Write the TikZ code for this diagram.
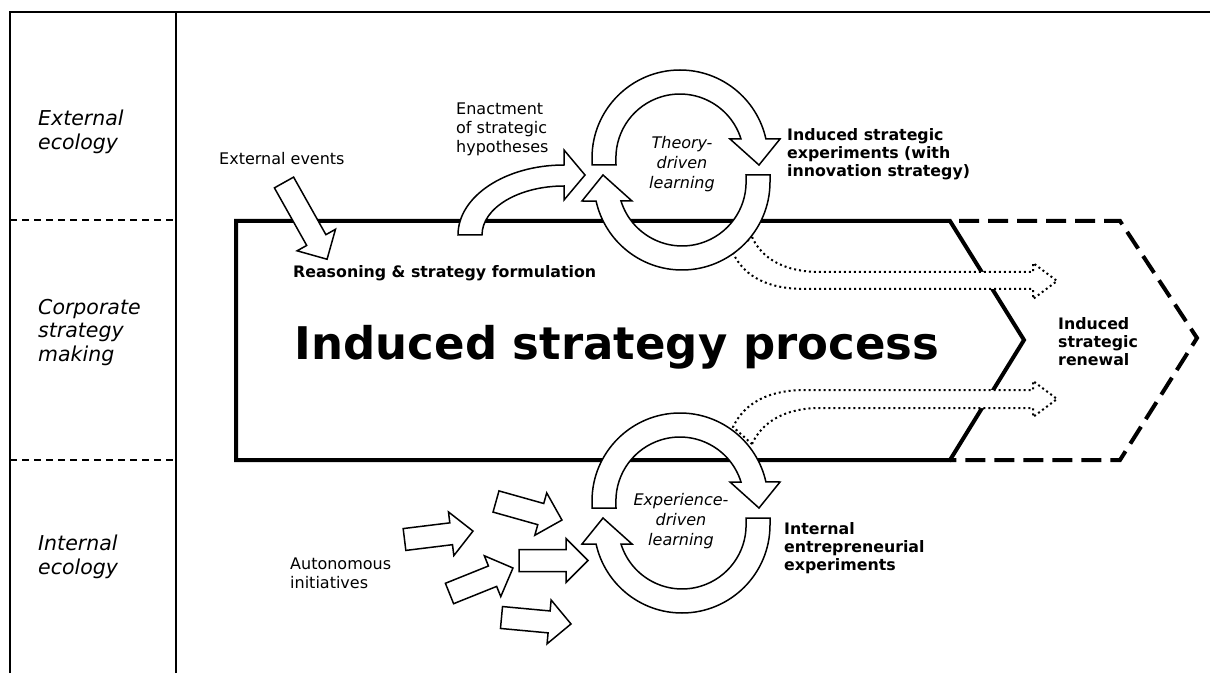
\documentclass[tikz,border=0pt]{standalone}
\usepackage{fontspec}
\setmainfont{DejaVu Sans}
\usepackage{tikz}

\tikzset{
    frameline/.style={line width=1.8pt},
    rowsep/.style={line width=1.5pt, dash pattern=on 7pt off 5pt},
    processline/.style={line width=4pt},
    renewalline/.style={line width=4pt, dash pattern=on 20pt off 9pt, dash phase=20pt},
    bandarrow/.style={fill=white, draw=black, line width=1.5pt},
    dotarrow/.style={fill=white, draw=black, line width=2pt, dash pattern=on 2pt off 3pt},
    rowlabel/.style={font=\fontsize{20.5}{23.5}\selectfont\itshape, align=left, anchor=north west, inner sep=0pt},
    smalllabel/.style={font=\fontsize{16}{19}\selectfont, align=left, anchor=north west, inner sep=0pt},
    boldlabel/.style={font=\fontsize{15.8}{18}\selectfont\bfseries, align=left, anchor=north west, inner sep=0pt},
    cyclelabel/.style={font=\fontsize{16}{20}\selectfont\itshape, align=center, inner sep=0pt}
}

\begin{document}
\begin{tikzpicture}[x=1pt, y=1pt]
    \useasboundingbox (0,0) rectangle (1210,673);

    % Frame with the three rows
    \draw[frameline] (10,0) -- (10,661) -- (1210,661);
    \draw[frameline] (176,0) -- (176,661);
    \draw[rowsep] (10,453) -- (176,453);
    \draw[rowsep] (10,213) -- (176,213);

    % Row labels
    \node[rowlabel] (extrow) at (38,563) {External\\ecology};
    \node[rowlabel] (corprow) at (38,374) {Corporate\\strategy\\making};
    \node[rowlabel] (introw) at (38,138) {Internal\\ecology};

    % Induced strategy process (solid) and induced renewal (dashed)
    \draw[processline] (236,452) -- (950,452) -- (1024,333) -- (950,213) -- (236,213) -- cycle;
    \draw[renewalline] (950,452) -- (1120,452) -- (1197,335) -- (1120,213) -- (950,213);

    % Texts in the process
    \node[font=\fontsize{45}{54}\selectfont\bfseries, anchor=base, inner sep=0pt] (process) at (617,314) {Induced strategy process};
    \node[boldlabel, anchor=base west] (reasoning) at (293,395) {Reasoning \& strategy formulation};
    \node[boldlabel, text depth=0pt] (renewal) at (1058,356) {Induced\\strategic\\renewal};

    % Dotted arrows towards the renewal
    \filldraw[dotarrow] (752,436) .. controls (762,414) and (785,401) .. (820,401) -- (1033,401) -- (1033,410)
        -- (1057,392) -- (1033,374) -- (1033,384) -- (805,384) .. controls (770,384) and (745,395) .. (733,420) -- cycle;
    \filldraw[dotarrow] (752,229) .. controls (762,251) and (785,265) .. (820,265) -- (1033,265) -- (1033,256)
        -- (1057,274) -- (1033,292) -- (1033,283) -- (805,283) .. controls (770,283) and (745,271) .. (733,246) -- cycle;

    % Learning cycles: two half rings, the second turned round
    \foreach \cy in {503,160}
        \foreach \rot in {0,180}
            \filldraw[bandarrow, shift={(681,\cy)}, rotate=\rot] (-89,5) -- (-89,12)
                arc[start angle=180, end angle=12.5, radius=88] -- (99,31) -- (78,5) -- (49,31) -- (60,31)
                arc[start angle=17.3, end angle=180, radius=64] -- (-65,5) -- cycle;

    \node[cyclelabel] (theory) at (682,509) {Theory-\\driven\\learning};
    \node[cyclelabel] (experience) at (681,152) {Experience-\\driven\\learning};

    % External events
    \node[smalllabel] (events) at (219,521) {External events};
    \filldraw[bandarrow, shift={(284,490.5)}, rotate=-60.7] (0,-11) -- (66,-11) -- (66,-22) -- (88,0) -- (66,22) -- (66,11) -- (0,11) -- cycle;

    % Enactment of hypotheses
    \node[smalllabel] (enactment) at (456,570) {Enactment\\of strategic\\hypotheses};
    \filldraw[bandarrow] (458,438) arc[start angle=180, end angle=90, x radius=106, y radius=70] -- (564,523) -- (585,498)
        -- (564,473) -- (564,487) arc[start angle=90, end angle=180, x radius=82, y radius=49] -- cycle;

    \node[boldlabel] (experiments) at (787,545) {Induced strategic\\experiments (with\\innovation strategy)};

    % Autonomous initiatives
    \node[smalllabel] (autonomous) at (290,115) {Autonomous\\initiatives};
    \foreach \x/\y/\a/\len in {404.5/133.5/7/69, 496/171.5/-15.7/68.5, 519/112.5/0/69, 449.5/79.5/21.9/68.4, 501.5/55.5/-5.3/69.8}
        \filldraw[bandarrow, shift={(\x,\y)}, rotate=\a] (0,-11) -- (\len-22,-11) -- (\len-22,-22) -- (\len,0)
            -- (\len-22,22) -- (\len-22,11) -- (0,11) -- cycle;

    \node[boldlabel] (internal) at (784,151) {Internal\\entrepreneurial\\experiments};
\end{tikzpicture}
\end{document}
